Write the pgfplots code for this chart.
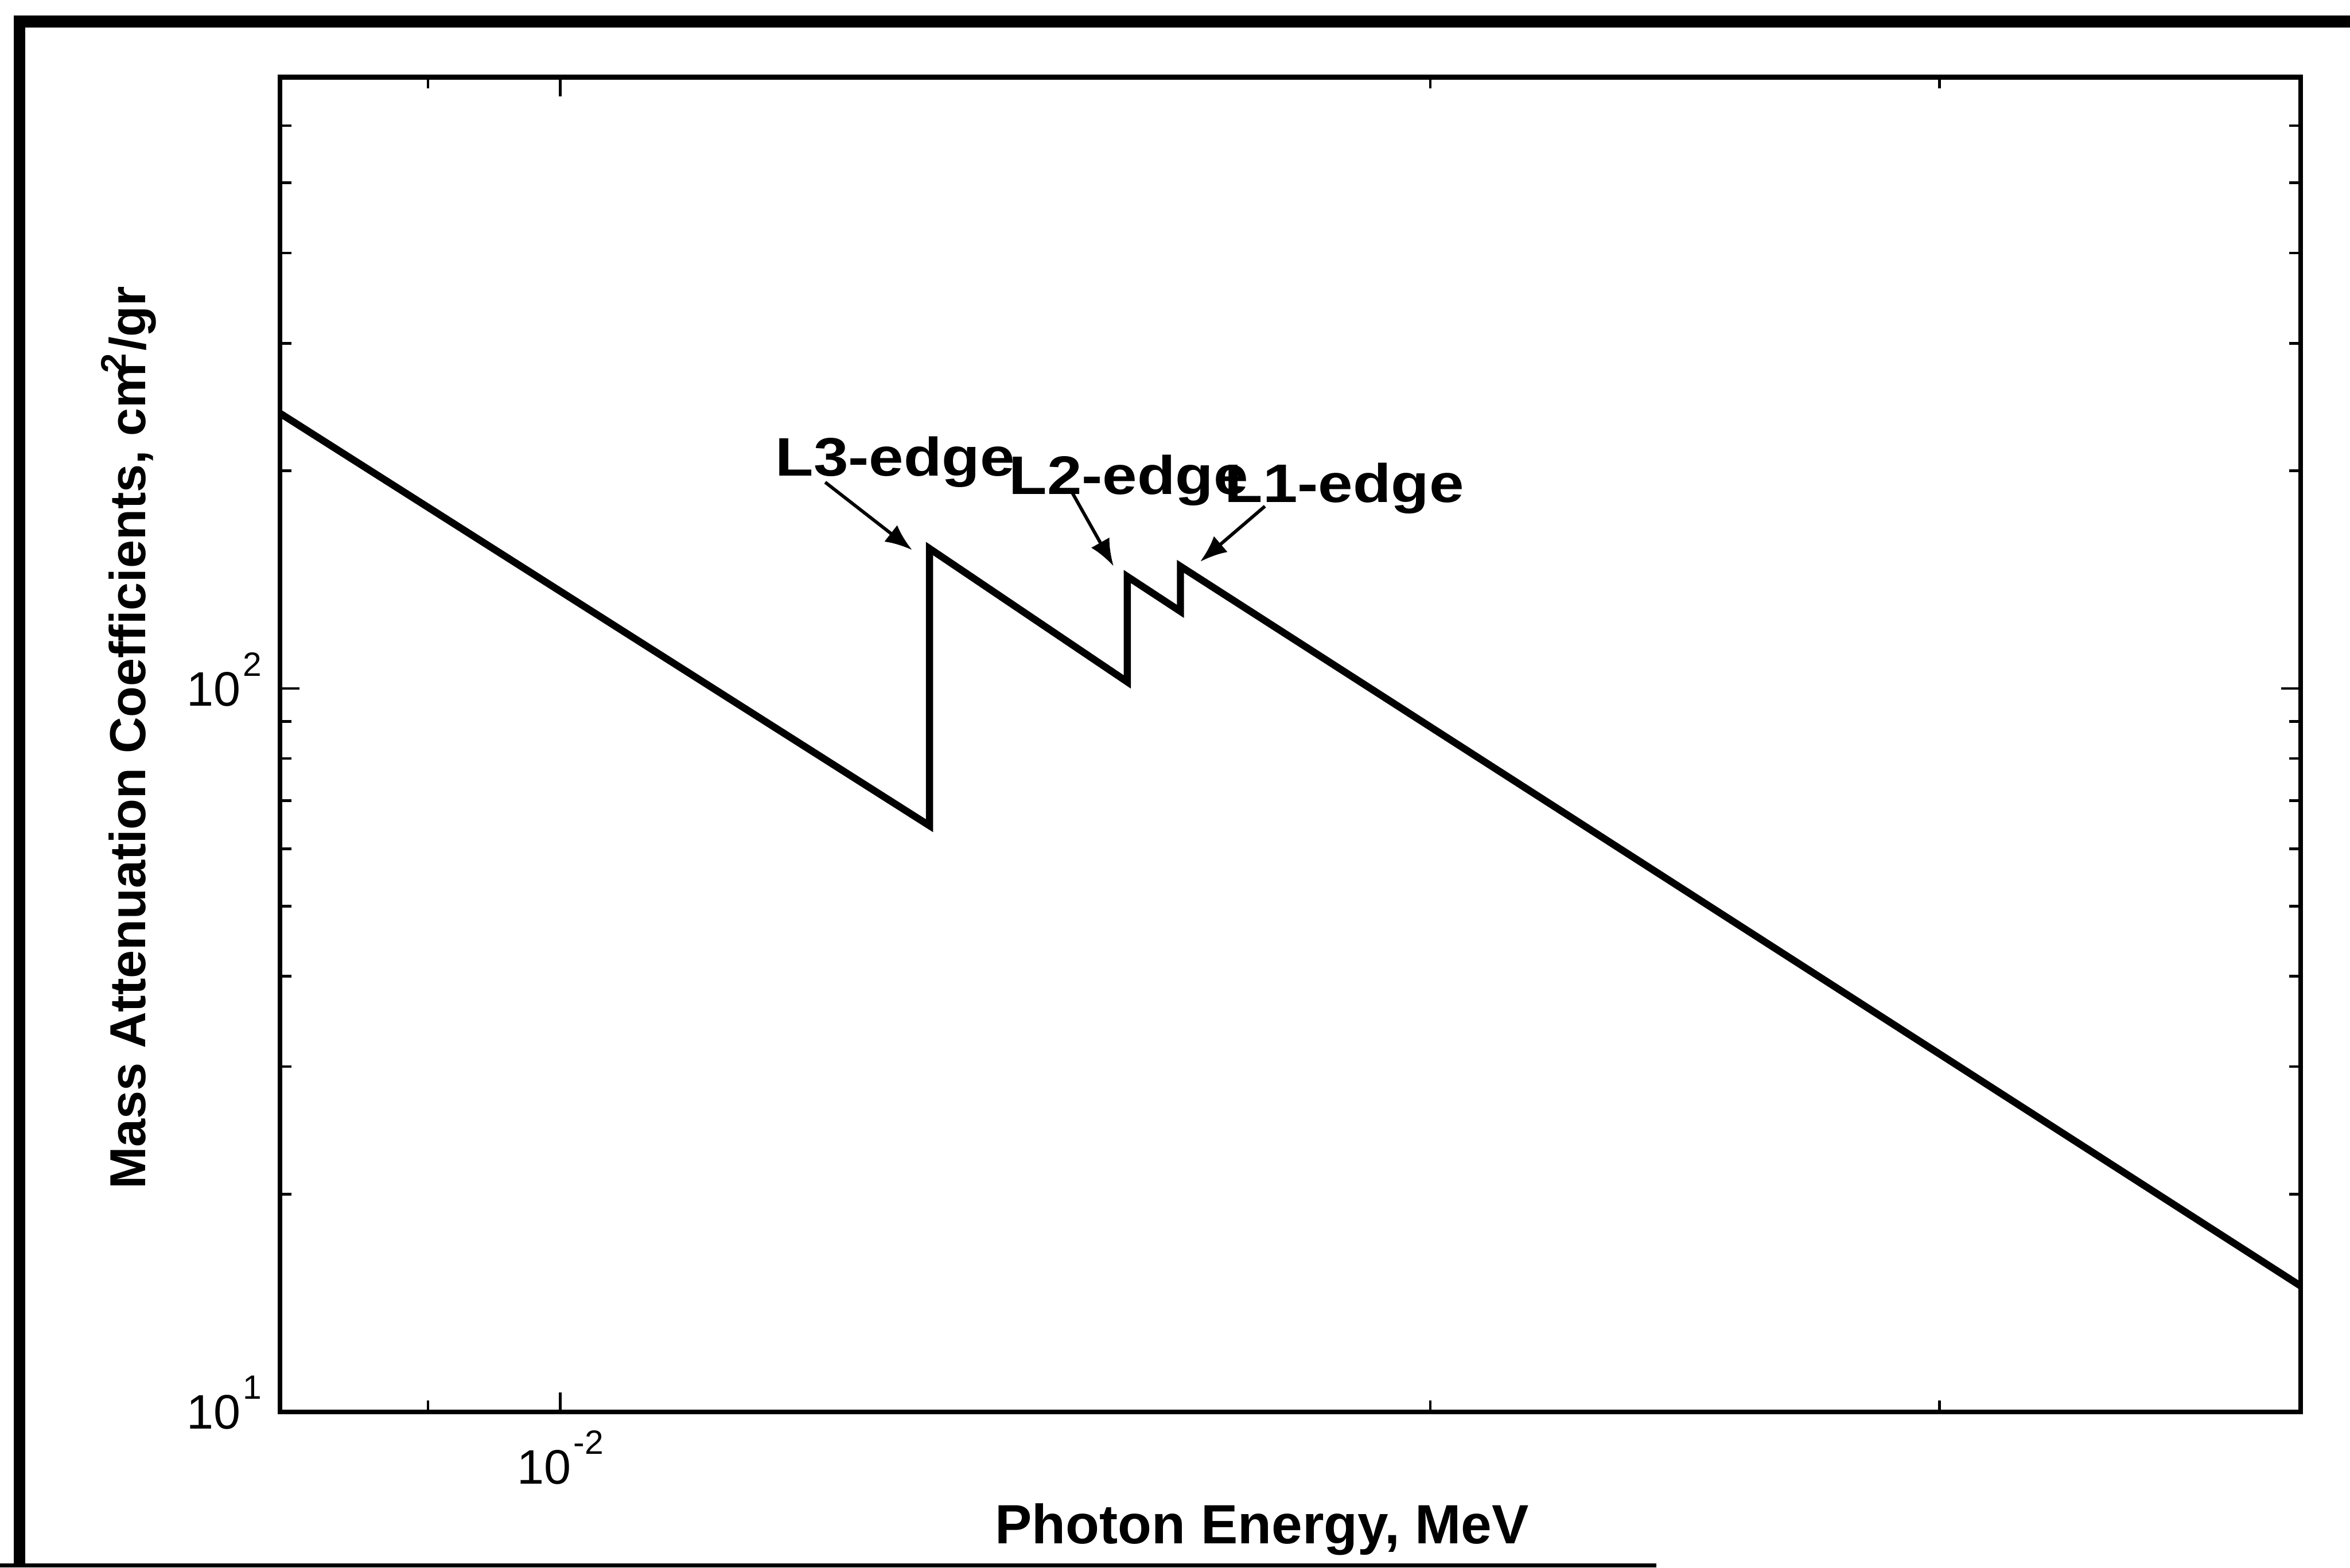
\documentclass[border=0pt]{standalone}
\usepackage{fontspec}
\setmainfont{Liberation Sans}
\newfontfamily\annfont[FakeStretch=1.15]{Liberation Sans}
\usepackage{pgfplots}
\pgfplotsset{compat=1.18}
\usetikzlibrary{arrows.meta}
\newcommand\pw[1]{10\kern0.05em\raisebox{2.0mm}{\fontsize{6.4}{7}\selectfont #1}}

\begin{document}
\begin{tikzpicture}
\begin{axis}[
  at={(0,0)}, anchor=south west,
  scale only axis, width=134.8mm, height=89.05mm,
  xmode=log, ymode=log,
  xmin=0.008, xmax=0.04, ymin=10, ymax=700,
  xtick={0.01}, xticklabels={\pw{-2}},
  minor xtick={0.009,0.02,0.03},
  ytick={10,100}, yticklabels={\pw{1},\pw{2}},
  minor ytick={20,30,40,50,60,70,80,90,200,300,400,500,600},
  major tick length=1.3mm, minor tick length=0.75mm,
  tick align=inside,
  every tick/.style={black, line width=0.5pt},
  axis line style={line width=0.9pt},
  ticklabel style={font=\fontsize{9.2}{10}\selectfont},
  yticklabel style={yshift=0.6mm},
  xlabel={Photon Energy, MeV},
  ylabel={Mass Attenuation Coefficients, cm\kern-0.2em\textsuperscript{2}/gr},
  xlabel style={font=\fontsize{10.5}{12}\selectfont\bfseries, at={(axis description cs:0.486,-0.0989)}, anchor=base},
  ylabel style={font=\fontsize{9.6}{12}\selectfont\bfseries, at={(axis description cs:-0.0668,0.505)}, anchor=base},
]
\addplot[black, line width=1.35pt] coordinates {
  (0.008,240) (0.01342,64.6) (0.01342,156.1) (0.01571,102.1)
  (0.01571,142.8) (0.01639,127.8) (0.01639,147.5) (0.04,14.93)};
\end{axis}

% outer frame
\draw[line width=0.8mm, line join=miter] (-17.4mm,-10.4mm) -- (-17.4mm,92.75mm) -- (138.1mm,92.75mm);
\draw[line width=0.3mm] (-18.7mm,-10.25mm) -- (91.8mm,-10.25mm);

% annotations
\node[anchor=base west, inner sep=0, font=\annfont\bfseries\fontsize{10.3}{12}\selectfont] at (32.98mm,62.45mm) {L3-edge};
\node[anchor=base west, inner sep=0, font=\annfont\bfseries\fontsize{10.3}{12}\selectfont] at (48.56mm,61.2mm) {L2-edge};
\node[anchor=base west, inner sep=0, font=\annfont\bfseries\fontsize{10.3}{12}\selectfont] at (62.95mm,60.7mm) {L1-edge};
\draw[line width=0.22mm, -{Latex[length=1.8mm,width=1.4mm]}] (36.36mm,62.02mm) -- (42.16mm,57.5mm);
\draw[line width=0.22mm, -{Latex[length=1.8mm,width=1.4mm]}] (52.8mm,61.4mm) -- (55.6mm,56.42mm);
\draw[line width=0.22mm, -{Latex[length=1.8mm,width=1.4mm]}] (65.7mm,60.42mm) -- (61.38mm,56.72mm);

\pgfresetboundingbox
\useasboundingbox (-18.7mm,-10.4mm) rectangle (138.1mm,94.2mm);
\end{tikzpicture}
\end{document}
